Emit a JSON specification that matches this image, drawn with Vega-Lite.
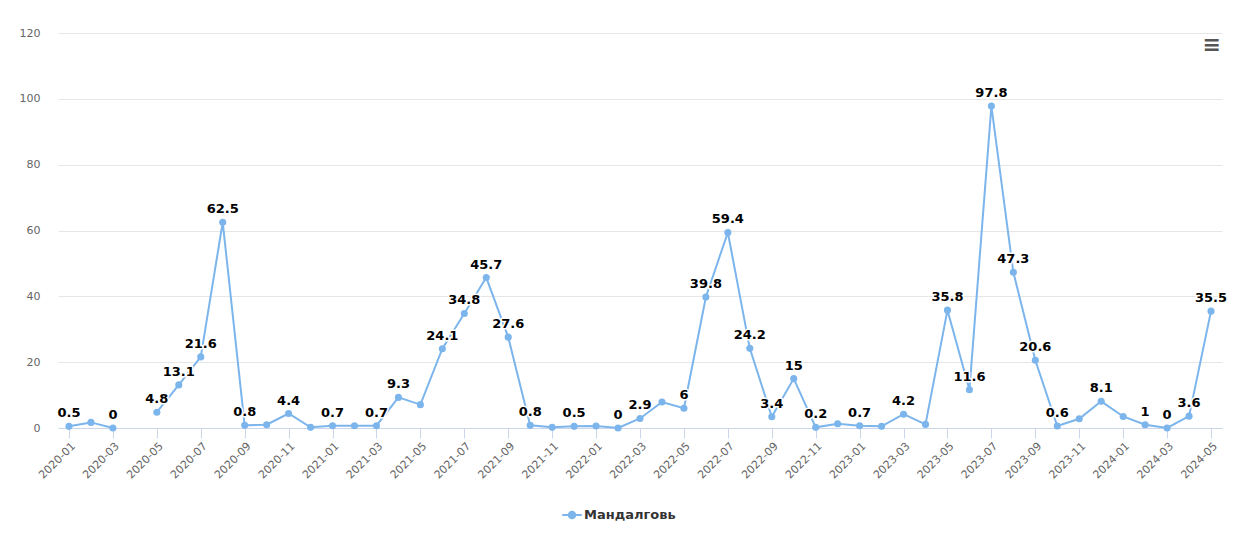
{
  "$schema": "https://vega.github.io/schema/vega-lite/v6.json",
  "width": 1164,
  "height": 395,
  "autosize": {"type": "none"},
  "padding": {"left": 58, "top": 33, "right": 18, "bottom": 106},
  "background": "white",
  "title": {"text": "≡", "anchor": "end", "fontSize": 22, "color": "#555", "fontWeight": "bold", "offset": -30, "dx": -6},
  "config": {"view": {"stroke": null}, "font": "DejaVu Sans"},
  "data": {"values": [
    {"month": "2020-01", "value": 0.5, "label": "0.5"},
    {"month": "2020-02", "value": 1.7, "label": null},
    {"month": "2020-03", "value": 0, "label": "0"},
    {"month": "2020-04", "value": null, "label": null},
    {"month": "2020-05", "value": 4.8, "label": "4.8"},
    {"month": "2020-06", "value": 13.1, "label": "13.1"},
    {"month": "2020-07", "value": 21.6, "label": "21.6"},
    {"month": "2020-08", "value": 62.5, "label": "62.5"},
    {"month": "2020-09", "value": 0.8, "label": "0.8"},
    {"month": "2020-10", "value": 1.0, "label": null},
    {"month": "2020-11", "value": 4.4, "label": "4.4"},
    {"month": "2020-12", "value": 0.2, "label": null},
    {"month": "2021-01", "value": 0.7, "label": "0.7"},
    {"month": "2021-02", "value": 0.7, "label": null},
    {"month": "2021-03", "value": 0.7, "label": "0.7"},
    {"month": "2021-04", "value": 9.3, "label": "9.3"},
    {"month": "2021-05", "value": 7.1, "label": null},
    {"month": "2021-06", "value": 24.1, "label": "24.1"},
    {"month": "2021-07", "value": 34.8, "label": "34.8"},
    {"month": "2021-08", "value": 45.7, "label": "45.7"},
    {"month": "2021-09", "value": 27.6, "label": "27.6"},
    {"month": "2021-10", "value": 0.8, "label": "0.8"},
    {"month": "2021-11", "value": 0.2, "label": null},
    {"month": "2021-12", "value": 0.5, "label": "0.5"},
    {"month": "2022-01", "value": 0.6, "label": null},
    {"month": "2022-02", "value": 0, "label": "0"},
    {"month": "2022-03", "value": 2.9, "label": "2.9"},
    {"month": "2022-04", "value": 7.9, "label": null},
    {"month": "2022-05", "value": 6, "label": "6"},
    {"month": "2022-06", "value": 39.8, "label": "39.8"},
    {"month": "2022-07", "value": 59.4, "label": "59.4"},
    {"month": "2022-08", "value": 24.2, "label": "24.2"},
    {"month": "2022-09", "value": 3.4, "label": "3.4"},
    {"month": "2022-10", "value": 15, "label": "15"},
    {"month": "2022-11", "value": 0.2, "label": "0.2"},
    {"month": "2022-12", "value": 1.3, "label": null},
    {"month": "2023-01", "value": 0.7, "label": "0.7"},
    {"month": "2023-02", "value": 0.5, "label": null},
    {"month": "2023-03", "value": 4.2, "label": "4.2"},
    {"month": "2023-04", "value": 1.1, "label": null},
    {"month": "2023-05", "value": 35.8, "label": "35.8"},
    {"month": "2023-06", "value": 11.6, "label": "11.6"},
    {"month": "2023-07", "value": 97.8, "label": "97.8"},
    {"month": "2023-08", "value": 47.3, "label": "47.3"},
    {"month": "2023-09", "value": 20.6, "label": "20.6"},
    {"month": "2023-10", "value": 0.6, "label": "0.6"},
    {"month": "2023-11", "value": 2.8, "label": null},
    {"month": "2023-12", "value": 8.1, "label": "8.1"},
    {"month": "2024-01", "value": 3.5, "label": null},
    {"month": "2024-02", "value": 1, "label": "1"},
    {"month": "2024-03", "value": 0, "label": "0"},
    {"month": "2024-04", "value": 3.6, "label": "3.6"},
    {"month": "2024-05", "value": 35.5, "label": "35.5"}
  ]},
  "encoding": {
    "x": {
      "field": "month", "type": "ordinal", "sort": null,
      "scale": {"type": "point", "padding": 0.5},
      "axis": {
        "title": null, "labelAngle": -45, "labelColor": "#666", "labelFontSize": 11,
        "domainColor": "#ccd6eb", "tickColor": "#ccd6eb", "tickSize": 10, "grid": false, "labelPadding": 2,
        "values": ["2020-01","2020-03","2020-05","2020-07","2020-09","2020-11","2021-01","2021-03","2021-05","2021-07","2021-09","2021-11","2022-01","2022-03","2022-05","2022-07","2022-09","2022-11","2023-01","2023-03","2023-05","2023-07","2023-09","2023-11","2024-01","2024-03","2024-05"]
      }
    },
    "y": {
      "field": "value", "type": "quantitative",
      "scale": {"domain": [0, 120], "nice": false},
      "axis": {
        "title": null, "values": [0, 20, 40, 60, 80, 100, 120], "grid": true, "gridColor": "#e6e6e6",
        "domain": false, "ticks": false, "labelColor": "#666", "labelFontSize": 11, "labelPadding": 18
      }
    }
  },
  "layer": [
    {
      "mark": {"type": "line", "strokeWidth": 2, "invalid": "break-paths-show-domains"},
      "encoding": {
        "color": {
          "datum": "Мандалговь",
          "scale": {"range": ["#7cb5ec"]},
          "legend": {
            "title": null, "orient": "none", "legendX": 506, "legendY": 474, "padding": 0,
            "labelFontSize": 13, "labelFontWeight": "bold", "labelColor": "#333", "labelFont": "DejaVu Sans",
            "symbolType": "M-1.5,0H1.5M-0.5,0A0.5,0.5,0,1,0,0.5,0A0.5,0.5,0,1,0,-0.5,0Z",
            "symbolSize": 170, "symbolStrokeWidth": 2, "symbolFillColor": "#7cb5ec", "symbolStrokeColor": "#7cb5ec"
          }
        }
      }
    },
    {
      "mark": {"type": "point", "filled": true, "size": 50, "opacity": 1},
      "encoding": {"color": {"datum": "Мандалговь"}}
    },
    {
      "transform": [{"filter": "datum.label != null"}],
      "mark": {"type": "text", "fontWeight": "bold", "fontSize": 13, "dy": -9, "baseline": "alphabetic", "fill": "white", "stroke": "white", "strokeWidth": 3, "strokeJoin": "round"},
      "encoding": {"text": {"field": "label"}}
    },
    {
      "transform": [{"filter": "datum.label != null"}],
      "mark": {"type": "text", "fontWeight": "bold", "fontSize": 13, "dy": -9, "baseline": "alphabetic", "color": "#000"},
      "encoding": {"text": {"field": "label"}}
    }
  ]
}
